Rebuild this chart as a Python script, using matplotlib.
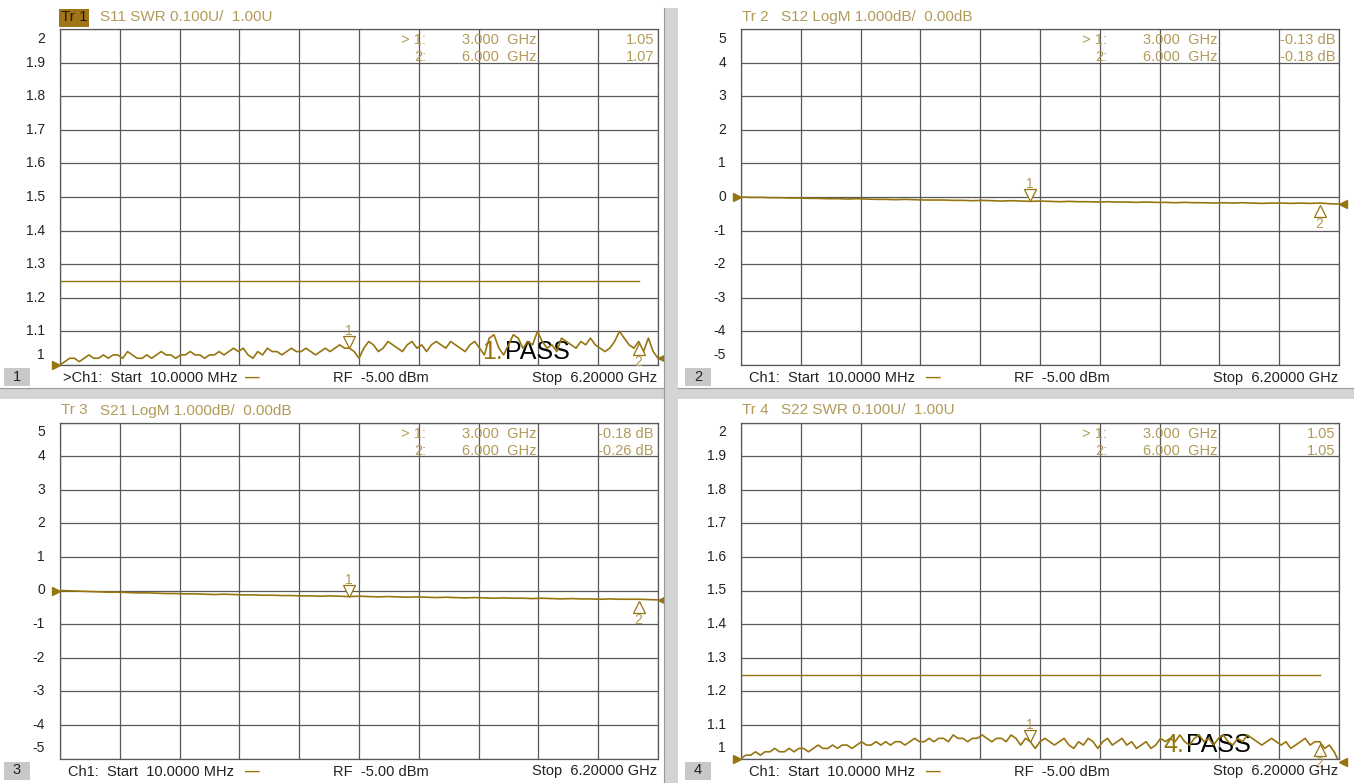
import numpy as np
import matplotlib.pyplot as plt
from matplotlib import transforms
from matplotlib.patches import Rectangle

W, H = 1354, 783
plt.rcParams["font.family"] = ["Liberation Sans", "DejaVu Sans"]

# sweep (GHz)
f_start, f_stop = 0.01, 6.2

# traces
s11_swr = [1.00, 1.01, 1.02, 1.02, 1.01, 1.02, 1.03, 1.02, 1.02, 1.03,
           1.02, 1.03, 1.03, 1.02, 1.04, 1.03, 1.02, 1.02, 1.03, 1.02,
           1.03, 1.04, 1.03, 1.03, 1.02, 1.03, 1.03, 1.04, 1.03, 1.03,
           1.02, 1.03, 1.03, 1.04, 1.03, 1.04, 1.05, 1.04, 1.05, 1.03,
           1.02, 1.04, 1.03, 1.05, 1.04, 1.04, 1.03, 1.04, 1.05, 1.04,
           1.04, 1.05, 1.04, 1.03, 1.04, 1.05, 1.04, 1.05, 1.06, 1.05,
           1.05, 1.04, 1.02, 1.05, 1.07, 1.06, 1.04, 1.05, 1.07, 1.06,
           1.05, 1.04, 1.06, 1.07, 1.05, 1.06, 1.04, 1.06, 1.07, 1.06,
           1.05, 1.07, 1.06, 1.05, 1.04, 1.06, 1.07, 1.05, 1.03, 1.08,
           1.09, 1.05, 1.03, 1.06, 1.09, 1.08, 1.05, 1.07, 1.06, 1.10,
           1.07, 1.05, 1.06, 1.04, 1.08, 1.07, 1.06, 1.05, 1.07, 1.06,
           1.08, 1.06, 1.05, 1.04, 1.05, 1.07, 1.10, 1.08, 1.06, 1.05,
           1.07, 1.04, 1.08, 1.04, 1.02]

s22_swr = [1.00, 1.01, 1.01, 1.02, 1.01, 1.02, 1.02, 1.03, 1.02, 1.02,
           1.03, 1.02, 1.03, 1.03, 1.02, 1.03, 1.04, 1.03, 1.03, 1.04,
           1.03, 1.04, 1.04, 1.03, 1.04, 1.05, 1.04, 1.04, 1.05, 1.04,
           1.05, 1.04, 1.05, 1.05, 1.04, 1.05, 1.06, 1.05, 1.05, 1.06,
           1.05, 1.06, 1.06, 1.05, 1.07, 1.06, 1.06, 1.05, 1.06, 1.06,
           1.07, 1.06, 1.05, 1.06, 1.06, 1.05, 1.07, 1.06, 1.04, 1.06,
           1.05, 1.03, 1.05, 1.06, 1.05, 1.04, 1.05, 1.06, 1.04, 1.03,
           1.05, 1.04, 1.06, 1.05, 1.03, 1.05, 1.06, 1.04, 1.05, 1.06,
           1.04, 1.05, 1.03, 1.04, 1.05, 1.03, 1.04, 1.06, 1.05, 1.06,
           1.05, 1.07, 1.05, 1.04, 1.06, 1.07, 1.05, 1.06, 1.04, 1.06,
           1.07, 1.05, 1.04, 1.06, 1.05, 1.07, 1.06, 1.05, 1.04, 1.05,
           1.06, 1.05, 1.04, 1.05, 1.03, 1.04, 1.05, 1.06, 1.04, 1.05,
           1.05, 1.03, 1.04, 1.02, 0.99]

s12_db = [0.00, -0.01, -0.01, -0.02, -0.02, -0.03, -0.03, -0.04, -0.04, -0.05,
          -0.05, -0.06, -0.05, -0.06, -0.07, -0.07, -0.08, -0.07, -0.08, -0.09,
          -0.09, -0.09, -0.10, -0.10, -0.11, -0.10, -0.11, -0.12, -0.11, -0.12,
          -0.13, -0.12, -0.13, -0.14, -0.13, -0.14, -0.14, -0.15, -0.14, -0.15,
          -0.15, -0.16, -0.15, -0.16, -0.16, -0.17, -0.16, -0.17, -0.17, -0.18,
          -0.17, -0.18, -0.17, -0.18, -0.19, -0.18, -0.18, -0.19, -0.18, -0.19,
          -0.18, -0.20, -0.21]

s21_db = [0.00, -0.01, -0.02, -0.03, -0.04, -0.05, -0.05, -0.06, -0.07, -0.07,
          -0.08, -0.09, -0.09, -0.10, -0.10, -0.11, -0.12, -0.11, -0.12, -0.13,
          -0.13, -0.14, -0.14, -0.15, -0.15, -0.16, -0.16, -0.17, -0.16, -0.17,
          -0.18, -0.17, -0.18, -0.19, -0.18, -0.19, -0.20, -0.19, -0.20, -0.21,
          -0.20, -0.21, -0.22, -0.21, -0.22, -0.23, -0.22, -0.23, -0.23, -0.24,
          -0.23, -0.24, -0.25, -0.24, -0.25, -0.25, -0.26, -0.25, -0.26, -0.26,
          -0.26, -0.27, -0.28]

marker_freqs = [3.0, 6.0]
s11_marks = [1.05, 1.07]
s12_marks = [-0.13, -0.18]
s21_marks = [-0.18, -0.26]
s22_marks = [1.05, 1.05]
s11_read = ["1.05", "1.07"]
s12_read = ["-0.13 dB", "-0.18 dB"]
s21_read = ["-0.18 dB", "-0.26 dB"]
s22_read = ["1.05", "1.05"]

limit_swr = 1.25
limit_stop = 6.0

swr_ticks = [2, 1.9, 1.8, 1.7, 1.6, 1.5, 1.4, 1.3, 1.2, 1.1, 1]
swr_labels = ["2", "1.9", "1.8", "1.7", "1.6", "1.5", "1.4", "1.3", "1.2", "1.1", "1"]
db_ticks = [5, 4, 3, 2, 1, 0, -1, -2, -3, -4, -5]
db_labels = ["5", "4", "3", "2", "1", "0", "-1", "-2", "-3", "-4", "-5"]

TRACE = "#967510"
GOLD = "#b29a58"
GRID = "#585858"
INK = "#222222"

fig = plt.figure(figsize=(W / 100, H / 100), dpi=100)
fig.patch.set_facecolor("white")


def ftext(x, y, s, **kw):
    kw.setdefault("va", "center")
    fig.text(x / W, 1 - y / H, s, **kw)


def frect(x0, y0, x1, y1, **kw):
    fig.add_artist(Rectangle((x0 / W, 1 - y1 / H), (x1 - x0) / W, (y1 - y0) / H,
                             transform=fig.transFigure, **kw))


# gray separators between the four windows
frect(664, 8, 678, 783, facecolor="#d4d4d4", edgecolor="none")
frect(0, 388, 1354, 399, facecolor="#d4d4d4", edgecolor="none")
fig.add_artist(plt.Line2D([664 / W] * 2, [1 - 8 / H, 0], color="#9a9a9a", lw=0.8))
fig.add_artist(plt.Line2D([0, 664 / W], [1 - 388 / H] * 2, color="#9a9a9a", lw=0.8))
fig.add_artist(plt.Line2D([678 / W, 1], [1 - 388 / H] * 2, color="#9a9a9a", lw=0.8))


def panel(num, L, T, vals, ticks, labels, marks, reads, title, swr, active, footer_gt):
    w, h = 598, 336
    B = T + h
    ax = fig.add_axes([L / W, 1 - B / H, w / W, h / H])
    freqs = np.linspace(f_start, f_stop, len(vals))
    ax.set_xlim(f_start, f_stop)
    ax.set_ylim(min(ticks), max(ticks))
    ax.set_xticks(np.linspace(f_start, f_stop, 11))
    ax.set_yticks(ticks)
    ax.grid(True, color=GRID, lw=0.9)
    ax.tick_params(length=0, labelbottom=False, labelleft=False)
    for sp in ax.spines.values():
        sp.set_color(GRID)
        sp.set_linewidth(0.9)

    for i, (t, lab) in enumerate(zip(ticks, labels)):
        dy = -10 if i == 0 else (10 if i == len(ticks) - 1 else 0)
        ax.annotate(lab, xy=(0, t), xycoords=("axes fraction", "data"),
                    xytext=(-15, dy), textcoords="offset pixels",
                    ha="right", va="center", fontsize=10, color=INK)

    if swr:
        ax.plot([f_start, limit_stop], [limit_swr, limit_swr], color=TRACE, lw=1.0)

    ax.plot(freqs, vals, color=TRACE, lw=1.2, zorder=4)

    # reference / end arrows
    ref = 1 if swr else 0
    ax.plot([f_start], [ref], marker=">", ms=6, color=TRACE, clip_on=False, zorder=5,
            transform=transforms.offset_copy(ax.transData, fig=fig, x=-4, y=0, units="dots"))
    ax.plot([f_stop], [vals[-1]], marker="<", ms=6, color=TRACE, clip_on=False, zorder=5,
            transform=transforms.offset_copy(ax.transData, fig=fig, x=4, y=0, units="dots"))

    # markers
    for k, (mf, mv) in enumerate(zip(marker_freqs, marks)):
        if k == 0:
            tri, tdy, ldy = "v", 6, 17
        else:
            tri, tdy, ldy = "^", -8, -21
        ax.plot([mf], [mv], marker=tri, ms=9, mfc="white", mec=TRACE, mew=0.9,
                linestyle="none", zorder=6, clip_on=False,
                transform=transforms.offset_copy(ax.transData, fig=fig, x=0, y=tdy, units="dots"))
        ax.annotate(str(k + 1), xy=(mf, mv), xytext=(0, ldy), textcoords="offset pixels",
                    ha="center", va="center", fontsize=10, color=GOLD, zorder=6)

    # marker readout
    for k, (mf, rd) in enumerate(zip(marker_freqs, reads)):
        y = T + 11 + 17 * k
        pre = "> 1:" if k == 0 else "2:"
        ftext(L + 366, y, pre, ha="right", fontsize=10.5, color=GOLD)
        ftext(L + 402, y, f"{mf:.3f}  GHz", ha="left", fontsize=10.5, color=GOLD)
        ftext(L + 594, y, rd, ha="right", fontsize=10.5, color=GOLD)

    # header
    if active:
        frect(L - 1, T - 20, L + 29, T - 2, facecolor="#a07418", edgecolor="none")
        ftext(L + 1, T - 12, f"Tr {num}", ha="left", fontsize=11, color="#2a2000")
    else:
        ftext(L + 1, T - 12, f"Tr {num}", ha="left", fontsize=11, color=GOLD)
    ftext(L + 40, T - 12, title, ha="left", fontsize=11, color=GOLD)

    # footer
    frect(L - 56, B + 3, L - 30, B + 21, facecolor="#c8c8c8", edgecolor="none")
    ftext(L - 43, B + 12, str(num), ha="center", fontsize=10.5, color=INK)
    if footer_gt:
        ftext(L + 3, B + 13, ">Ch1:  Start  10.0000 MHz", ha="left", fontsize=10.5, color=INK)
    else:
        ftext(L + 8, B + 13, "Ch1:  Start  10.0000 MHz", ha="left", fontsize=10.5, color=INK)
    ftext(L + 185, B + 13, "\u2014", ha="left", fontsize=10.5, color=TRACE, fontweight="bold")
    ftext(L + 273, B + 13, "RF  -5.00 dBm", ha="left", fontsize=10.5, color=INK)
    ftext(L + 597, B + 13, "Stop  6.20000 GHz", ha="right", fontsize=10.5, color=INK)

    if swr:
        ax.annotate(f"{num}.", xy=(0, 0), xycoords="axes fraction", xytext=(422, 13),
                    textcoords="offset pixels", ha="left", va="center",
                    fontsize=18, color=TRACE, zorder=3)
        ax.annotate("PASS", xy=(0, 0), xycoords="axes fraction", xytext=(445, 13),
                    textcoords="offset pixels", ha="left", va="center",
                    fontsize=18, color="black", zorder=3)
    return ax


panel(1, 60, 29, s11_swr, swr_ticks, swr_labels, s11_marks, s11_read,
      "S11 SWR 0.100U/  1.00U", True, True, True)
panel(2, 741, 29, s12_db, db_ticks, db_labels, s12_marks, s12_read,
      "S12 LogM 1.000dB/  0.00dB", False, False, False)
panel(3, 60, 422.5, s21_db, db_ticks, db_labels, s21_marks, s21_read,
      "S21 LogM 1.000dB/  0.00dB", False, False, False)
panel(4, 741, 422.5, s22_swr, swr_ticks, swr_labels, s22_marks, s22_read,
      "S22 SWR 0.100U/  1.00U", True, False, False)

fig.savefig("out.png", dpi=100, facecolor="white")
